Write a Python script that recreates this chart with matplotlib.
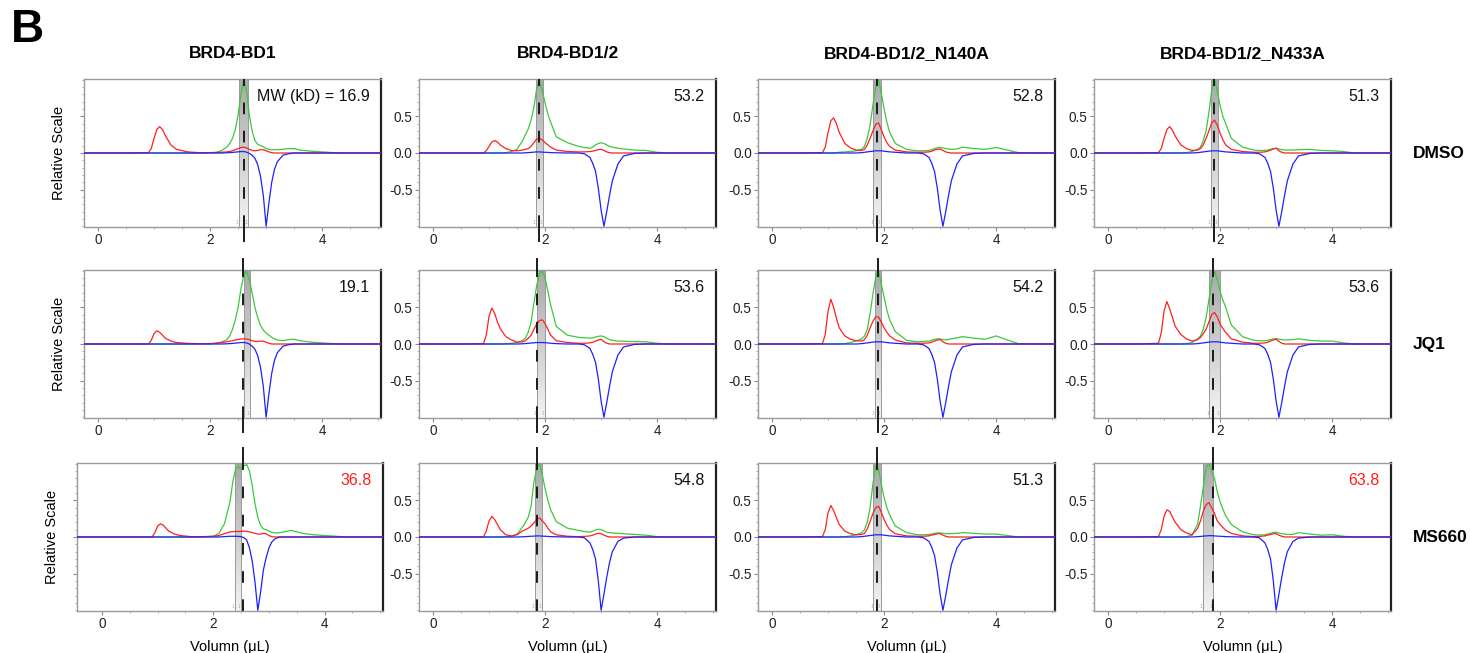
import numpy as np
import matplotlib
matplotlib.use("Agg")
import matplotlib.pyplot as plt
from matplotlib.colors import LinearSegmentedColormap
from matplotlib.transforms import blended_transform_factory

plt.rcParams['font.family'] = ['Liberation Sans', 'DejaVu Sans']

# volume grids (uL): column 1 and columns 2-4
X_A = [-0.45, 0.5, 0.9, 0.95, 1.0, 1.05, 1.1, 1.15, 1.2, 1.3, 1.4,
       1.6, 1.8, 2.0, 2.1, 2.2, 2.3, 2.35, 2.4, 2.45, 2.5, 2.55,
       2.6, 2.65, 2.7, 2.75, 2.8, 2.85, 2.9, 2.95, 3.0, 3.05, 3.1,
       3.15, 3.2, 3.3, 3.4, 3.5, 3.6, 3.8, 4.0, 4.2, 4.4, 5.05]
X_B = [-0.45, 0.5, 0.9, 0.95, 1.0, 1.05, 1.1, 1.15, 1.2, 1.3, 1.4,
       1.5, 1.6, 1.65, 1.7, 1.75, 1.8, 1.85, 1.9, 1.95, 2.0, 2.05,
       2.1, 2.2, 2.4, 2.6, 2.7, 2.8, 2.85, 2.9, 2.95, 3.0, 3.05,
       3.1, 3.15, 3.2, 3.3, 3.4, 3.6, 3.8, 4.0, 4.2, 4.4, 5.05]

# ---- row 1 (DMSO) ----
G11 = [0, 0, 0, 0, 0, 0, 0, 0, 0, 0, 0,
       0, 0, 0.005, 0.01, 0.03, 0.08, 0.13, 0.2, 0.32, 0.52, 0.8,
       1.0, 0.85, 0.52, 0.3, 0.17, 0.12, 0.1, 0.085, 0.06, 0.05, 0.045,
       0.045, 0.045, 0.05, 0.06, 0.06, 0.04, 0.025, 0.015, 0.005, 0, 0]
R11 = [0, 0, 0.005, 0.06, 0.2, 0.32, 0.36, 0.32, 0.24, 0.11, 0.05,
       0.015, 0.005, 0.005, 0.005, 0.01, 0.015, 0.02, 0.03, 0.045, 0.06, 0.075,
       0.08, 0.07, 0.05, 0.035, 0.03, 0.035, 0.045, 0.045, 0.03, 0.015, 0.005,
       0, 0, 0, 0, 0, 0, 0, 0, 0, 0, 0]
B11 = [0, 0, 0, 0, 0, 0, 0, 0, 0, 0, 0,
       0, 0, 0, 0, 0, 0.003, 0.005, 0.008, 0.012, 0.016, 0.02,
       0.02, 0.012, -0.005, -0.03, -0.07, -0.16, -0.32, -0.58, -1.0, -0.68, -0.4,
       -0.22, -0.12, -0.03, -0.01, 0, 0, 0, 0, 0, 0, 0]

G12 = [0, 0, 0, 0, 0, 0, 0, 0, 0, 0.005, 0.02,
       0.05, 0.17, 0.25, 0.33, 0.45, 0.62, 0.88, 1.0, 0.85, 0.68, 0.53,
       0.42, 0.22, 0.14, 0.09, 0.075, 0.065, 0.08, 0.11, 0.13, 0.14, 0.13,
       0.11, 0.09, 0.08, 0.065, 0.055, 0.04, 0.035, 0.01, 0, 0, 0]
R12 = [0, 0, 0, 0.03, 0.09, 0.15, 0.17, 0.15, 0.11, 0.06, 0.035,
       0.03, 0.04, 0.05, 0.06, 0.09, 0.14, 0.19, 0.2, 0.18, 0.14, 0.11,
       0.08, 0.04, 0.02, 0.015, 0.015, 0.02, 0.025, 0.035, 0.045, 0.05, 0.035,
       0.015, 0.005, 0, 0, 0, 0, 0, 0, 0, 0, 0]
B12 = [0, 0, 0, 0, 0, 0, 0, 0, 0, 0, 0,
       0, 0, 0.003, 0.005, 0.008, 0.012, 0.015, 0.015, 0.012, 0.01, 0.008,
       0.005, 0.003, 0, 0, -0.01, -0.06, -0.14, -0.25, -0.48, -0.78, -1.0,
       -0.8, -0.58, -0.38, -0.15, -0.04, -0.005, 0, 0, 0, 0, 0]

G13 = [0, 0, 0, 0, 0, 0, 0, 0.005, 0.01, 0.015, 0.02,
       0.03, 0.05, 0.09, 0.2, 0.38, 0.65, 0.9, 1.0, 0.82, 0.6, 0.42,
       0.28, 0.13, 0.05, 0.03, 0.03, 0.035, 0.045, 0.06, 0.07, 0.075, 0.07,
       0.06, 0.055, 0.05, 0.055, 0.08, 0.06, 0.05, 0.075, 0.04, 0.005, 0]
R13 = [0, 0, 0.005, 0.08, 0.28, 0.44, 0.48, 0.4, 0.28, 0.13, 0.07,
       0.04, 0.035, 0.05, 0.11, 0.2, 0.3, 0.39, 0.41, 0.32, 0.22, 0.14,
       0.09, 0.04, 0.015, 0.01, 0.01, 0.015, 0.025, 0.04, 0.05, 0.055, 0.035,
       0.015, 0.005, 0, 0, 0, 0, 0, 0, 0, 0, 0]
B13 = [0, 0, 0, 0, 0, 0, 0, 0, 0, 0, 0,
       0, 0.005, 0.01, 0.015, 0.02, 0.025, 0.03, 0.03, 0.03, 0.025, 0.02,
       0.015, 0.01, 0, 0, -0.01, -0.06, -0.14, -0.25, -0.48, -0.78, -1.0,
       -0.8, -0.58, -0.38, -0.15, -0.04, -0.005, 0, 0, 0, 0, 0]

G14 = [0, 0, 0, 0, 0, 0, 0, 0, 0, 0, 0.005,
       0.02, 0.05, 0.08, 0.17, 0.3, 0.55, 0.85, 1.0, 0.85, 0.65, 0.5,
       0.4, 0.2, 0.08, 0.04, 0.035, 0.035, 0.04, 0.05, 0.06, 0.065, 0.055,
       0.045, 0.04, 0.04, 0.04, 0.045, 0.05, 0.035, 0.03, 0.02, 0, 0]
R14 = [0, 0, 0.005, 0.06, 0.2, 0.32, 0.36, 0.31, 0.23, 0.11, 0.06,
       0.035, 0.04, 0.06, 0.11, 0.2, 0.3, 0.41, 0.45, 0.38, 0.27, 0.18,
       0.11, 0.05, 0.02, 0.01, 0.01, 0.015, 0.025, 0.04, 0.055, 0.065, 0.03,
       0.01, 0, 0, 0, 0, 0, 0, 0, 0, 0, 0]
B14 = [0, 0, 0, 0, 0, 0, 0, 0, 0, 0, 0,
       0, 0.005, 0.01, 0.015, 0.02, 0.025, 0.03, 0.03, 0.03, 0.025, 0.02,
       0.015, 0.01, 0, 0, -0.01, -0.06, -0.14, -0.25, -0.48, -0.78, -1.0,
       -0.8, -0.58, -0.38, -0.15, -0.04, -0.005, 0, 0, 0, 0, 0]

# ---- row 2 (JQ1) ----
G21 = [0, 0, 0, 0, 0, 0, 0, 0, 0, 0, 0,
       0, 0, 0.003, 0.01, 0.025, 0.06, 0.11, 0.2, 0.33, 0.5, 0.75,
       0.93, 1.0, 0.88, 0.7, 0.5, 0.36, 0.25, 0.19, 0.15, 0.12, 0.09,
       0.07, 0.055, 0.045, 0.06, 0.065, 0.045, 0.025, 0.015, 0.005, 0, 0]
R21 = [0, 0, 0, 0.05, 0.14, 0.18, 0.16, 0.12, 0.08, 0.04, 0.02,
       0.008, 0.005, 0.005, 0.01, 0.02, 0.03, 0.038, 0.045, 0.055, 0.062, 0.068,
       0.07, 0.068, 0.06, 0.045, 0.035, 0.035, 0.04, 0.038, 0.025, 0.01, 0,
       0, 0, 0, 0, 0, 0, 0, 0, 0, 0, 0]
B21 = [0, 0, 0, 0, 0, 0, 0, 0, 0, 0, 0,
       0, 0, 0, 0, 0, 0.003, 0.005, 0.008, 0.012, 0.016, 0.02,
       0.02, 0.015, 0, -0.03, -0.07, -0.16, -0.32, -0.58, -1.0, -0.68, -0.4,
       -0.22, -0.12, -0.03, -0.01, 0, 0, 0, 0, 0, 0, 0]

G22 = [0, 0, 0, 0, 0, 0, 0, 0, 0, 0.005, 0.01,
       0.02, 0.05, 0.08, 0.16, 0.3, 0.55, 0.8, 0.95, 1.0, 0.9, 0.72,
       0.53, 0.24, 0.12, 0.09, 0.085, 0.08, 0.085, 0.095, 0.105, 0.11, 0.1,
       0.08, 0.06, 0.05, 0.04, 0.037, 0.033, 0.03, 0.01, 0, 0, 0]
R22 = [0, 0, 0.005, 0.12, 0.38, 0.49, 0.42, 0.3, 0.21, 0.1, 0.055,
       0.025, 0.03, 0.045, 0.08, 0.12, 0.2, 0.27, 0.32, 0.33, 0.28, 0.2,
       0.12, 0.045, 0.02, 0.01, 0.01, 0.015, 0.025, 0.04, 0.055, 0.065, 0.03,
       0.01, 0, 0, 0, 0, 0, 0, 0, 0, 0, 0]
B22 = [0, 0, 0, 0, 0, 0, 0, 0, 0, 0, 0,
       0, 0.003, 0.006, 0.01, 0.013, 0.016, 0.02, 0.02, 0.02, 0.018, 0.015,
       0.01, 0.005, 0, 0, -0.01, -0.06, -0.14, -0.25, -0.48, -0.78, -1.0,
       -0.8, -0.58, -0.38, -0.15, -0.04, -0.005, 0, 0, 0, 0, 0]

G23 = [0, 0, 0, 0, 0, 0, 0, 0, 0, 0.005, 0.02,
       0.04, 0.07, 0.11, 0.2, 0.41, 0.68, 0.9, 1.0, 0.82, 0.64, 0.46,
       0.33, 0.17, 0.05, 0.03, 0.035, 0.04, 0.05, 0.065, 0.07, 0.07, 0.06,
       0.055, 0.06, 0.07, 0.085, 0.1, 0.08, 0.065, 0.11, 0.055, 0.005, 0]
R23 = [0, 0, 0.005, 0.13, 0.45, 0.61, 0.5, 0.35, 0.22, 0.11, 0.065,
       0.045, 0.04, 0.06, 0.12, 0.22, 0.31, 0.37, 0.37, 0.3, 0.22, 0.16,
       0.11, 0.055, 0.015, 0.01, 0.01, 0.015, 0.025, 0.04, 0.055, 0.06, 0.03,
       0.01, 0, 0, 0, 0, 0, 0, 0, 0, 0, 0]
B23 = [0, 0, 0, 0, 0, 0, 0, 0, 0, 0, 0,
       0, 0.005, 0.01, 0.015, 0.02, 0.025, 0.03, 0.03, 0.03, 0.025, 0.02,
       0.015, 0.01, 0, 0, -0.01, -0.06, -0.14, -0.25, -0.48, -0.78, -1.0,
       -0.8, -0.58, -0.38, -0.15, -0.04, -0.005, 0, 0, 0, 0, 0]

G24 = [0, 0, 0, 0, 0, 0, 0, 0, 0, 0, 0.005,
       0.02, 0.07, 0.11, 0.2, 0.36, 0.6, 0.85, 1.0, 0.88, 0.72, 0.6,
       0.5, 0.26, 0.1, 0.05, 0.045, 0.045, 0.05, 0.06, 0.07, 0.075, 0.065,
       0.06, 0.055, 0.055, 0.06, 0.07, 0.05, 0.04, 0.04, 0.015, 0, 0]
R24 = [0, 0, 0.01, 0.15, 0.45, 0.58, 0.48, 0.36, 0.24, 0.13, 0.07,
       0.04, 0.06, 0.09, 0.14, 0.2, 0.3, 0.4, 0.43, 0.37, 0.27, 0.21,
       0.16, 0.07, 0.025, 0.01, 0.01, 0.015, 0.025, 0.04, 0.055, 0.065, 0.035,
       0.01, 0, 0, 0, 0, 0, 0, 0, 0, 0, 0]
B24 = [0, 0, 0, 0, 0, 0, 0, 0, 0, 0, 0,
       0, 0.005, 0.01, 0.015, 0.02, 0.025, 0.03, 0.03, 0.03, 0.025, 0.02,
       0.015, 0.01, 0, 0, -0.01, -0.06, -0.14, -0.25, -0.48, -0.78, -1.0,
       -0.8, -0.58, -0.38, -0.15, -0.04, -0.005, 0, 0, 0, 0, 0]

# ---- row 3 (MS660) ----
G31 = [0, 0, 0, 0, 0, 0, 0, 0, 0, 0, 0,
       0, 0, 0.01, 0.05, 0.18, 0.48, 0.75, 0.93, 0.96, 0.93, 0.97,
       0.99, 0.9, 0.7, 0.45, 0.27, 0.16, 0.11, 0.1, 0.08, 0.065, 0.055,
       0.055, 0.06, 0.075, 0.09, 0.07, 0.05, 0.03, 0.02, 0.01, 0, 0]
R31 = [0, 0, 0, 0.06, 0.15, 0.18, 0.16, 0.12, 0.08, 0.04, 0.02,
       0.005, 0.005, 0.01, 0.02, 0.045, 0.07, 0.073, 0.075, 0.075, 0.078, 0.08,
       0.078, 0.07, 0.06, 0.05, 0.04, 0.04, 0.05, 0.045, 0.02, 0.005, 0,
       0, 0, 0, 0, 0, 0, 0, 0, 0, 0, 0]
B31 = [0, 0, 0, 0, 0, 0, 0, 0, 0, 0, 0,
       0, 0, 0, 0, 0.005, 0.01, 0.01, 0.01, 0.008, 0.005, -0.01,
       -0.04, -0.15, -0.33, -0.62, -1.0, -0.75, -0.45, -0.28, -0.15, -0.07, -0.03,
       -0.01, 0, 0, 0, 0, 0, 0, 0, 0, 0, 0]

G32 = [0, 0, 0, 0, 0, 0, 0, 0, 0, 0.005, 0.01,
       0.04, 0.14, 0.2, 0.27, 0.42, 0.75, 0.93, 1.0, 0.85, 0.66, 0.5,
       0.37, 0.21, 0.12, 0.09, 0.075, 0.065, 0.08, 0.095, 0.105, 0.1, 0.085,
       0.065, 0.06, 0.055, 0.05, 0.045, 0.035, 0.025, 0.005, 0, 0, 0]
R32 = [0, 0, 0, 0.08, 0.22, 0.28, 0.24, 0.17, 0.1, 0.03, 0.015,
       0.03, 0.085, 0.1, 0.12, 0.15, 0.19, 0.24, 0.26, 0.22, 0.18, 0.12,
       0.07, 0.03, 0.01, 0.005, 0.008, 0.015, 0.025, 0.04, 0.05, 0.045, 0.025,
       0.01, 0, 0, 0, 0, 0, 0, 0, 0, 0, 0]
B32 = [0, 0, 0, 0, 0, 0, 0, 0, 0, 0, 0,
       0, 0.003, 0.005, 0.008, 0.01, 0.012, 0.015, 0.015, 0.012, 0.01, 0.008,
       0.005, 0.003, 0, 0, -0.01, -0.08, -0.17, -0.3, -0.6, -1.0, -0.78,
       -0.55, -0.35, -0.2, -0.06, -0.015, 0, 0, 0, 0, 0, 0]

G33 = [0, 0, 0, 0, 0, 0, 0, 0, 0, 0.005, 0.015,
       0.03, 0.06, 0.1, 0.2, 0.4, 0.72, 0.98, 0.92, 0.72, 0.54, 0.4,
       0.3, 0.15, 0.06, 0.03, 0.03, 0.035, 0.04, 0.05, 0.055, 0.055, 0.05,
       0.045, 0.045, 0.045, 0.05, 0.06, 0.05, 0.04, 0.04, 0.02, 0, 0]
R33 = [0, 0, 0.005, 0.1, 0.33, 0.43, 0.36, 0.26, 0.17, 0.08, 0.045,
       0.03, 0.035, 0.05, 0.11, 0.21, 0.32, 0.4, 0.42, 0.34, 0.24, 0.16,
       0.1, 0.045, 0.015, 0.01, 0.01, 0.015, 0.025, 0.035, 0.045, 0.045, 0.025,
       0.01, 0, 0, 0, 0, 0, 0, 0, 0, 0, 0]
B33 = [0, 0, 0, 0, 0, 0, 0, 0, 0, 0, 0,
       0, 0.005, 0.01, 0.015, 0.02, 0.025, 0.03, 0.03, 0.03, 0.025, 0.02,
       0.015, 0.01, 0, 0, -0.01, -0.06, -0.14, -0.25, -0.48, -0.78, -1.0,
       -0.8, -0.58, -0.38, -0.15, -0.04, -0.005, 0, 0, 0, 0, 0]

G34 = [0, 0, 0, 0, 0, 0, 0, 0, 0, 0, 0.005,
       0.025, 0.18, 0.42, 0.68, 0.95, 1.0, 0.9, 0.8, 0.62, 0.48, 0.38,
       0.29, 0.17, 0.07, 0.03, 0.028, 0.03, 0.04, 0.05, 0.06, 0.065, 0.055,
       0.045, 0.04, 0.035, 0.035, 0.06, 0.04, 0.025, 0.03, 0.01, 0, 0]
R34 = [0, 0, 0.005, 0.1, 0.28, 0.37, 0.35, 0.27, 0.2, 0.1, 0.055,
       0.03, 0.12, 0.22, 0.35, 0.44, 0.47, 0.4, 0.32, 0.22, 0.17, 0.13,
       0.09, 0.05, 0.015, 0.005, 0.008, 0.015, 0.025, 0.035, 0.045, 0.045, 0.025,
       0.01, 0, 0, 0, 0, 0, 0, 0, 0, 0, 0]
B34 = [0, 0, 0, 0, 0, 0, 0, 0, 0, 0, 0,
       0, 0.005, 0.008, 0.012, 0.015, 0.018, 0.018, 0.015, 0.012, 0.01, 0.008,
       0.005, 0.003, 0, 0, -0.01, -0.08, -0.17, -0.3, -0.6, -1.0, -0.78,
       -0.55, -0.35, -0.2, -0.06, -0.015, 0, 0, 0, 0, 0, 0]

COLUMNS = ["BRD4-BD1", "BRD4-BD1/2", "BRD4-BD1/2_N140A", "BRD4-BD1/2_N433A"]
ROWS = ["DMSO", "JQ1", "MS660"]
MW = [["MW (kD) = 16.9", "53.2", "52.8", "51.3"],
      ["19.1", "53.6", "54.2", "53.6"],
      ["36.8", "54.8", "51.3", "63.8"]]
MW_RED = [(2, 0), (2, 3)]
GREEN = [[G11, G12, G13, G14], [G21, G22, G23, G24], [G31, G32, G33, G34]]
RED = [[R11, R12, R13, R14], [R21, R22, R23, R24], [R31, R32, R33, R34]]
BLUE = [[B11, B12, B13, B14], [B21, B22, B23, B24], [B31, B32, B33, B34]]
# selected fraction window and peak marker (uL)
BANDS = [[(2.52, 2.68), (1.83, 1.96), (1.81, 1.95), (1.83, 1.97)],
         [(2.60, 2.71), (1.85, 2.00), (1.83, 1.94), (1.81, 1.99)],
         [(2.39, 2.49), (1.82, 1.95), (1.81, 1.94), (1.70, 1.87)]]
MARKS = [[2.60, 1.89, 1.88, 1.89],
         [2.59, 1.86, 1.89, 1.87],
         [2.53, 1.86, 1.88, 1.87]]

FW, FH = 1470, 653
COL_LEFT = [84, 419, 758, 1094]
ROW_TOP = [79, 270, 463]
W, H = 297, 148

band_cmap = LinearSegmentedColormap.from_list("band", ["#a9a9a9", "#f3f3f3"])

fig = plt.figure(figsize=(FW / 100, FH / 100), dpi=100)
fig.text(27 / FW, 1 - 30 / FH, "B", fontsize=33, fontweight="bold",
         ha="center", va="center")

for r in range(3):
    for c in range(4):
        left, width, xmin = COL_LEFT[c], W, -0.25
        if r == 2 and c == 0:
            left, width, xmin = 77, 306, -0.45
        ax = fig.add_axes([left / FW, 1 - (ROW_TOP[r] + H) / FH, width / FW, H / FH])
        x = X_A if c == 0 else X_B

        lo, hi = BANDS[r][c]
        ax.imshow(np.linspace(0, 1, 64).reshape(-1, 1), cmap=band_cmap,
                  extent=(lo, hi, -1.01, 1.01), aspect="auto", origin="upper",
                  zorder=1, interpolation="bilinear")
        for e in (lo, hi):
            ax.axvline(e, color="#9a9a9a", lw=0.7, zorder=2)
            ax.text(e - 0.01, -0.985, "1", fontsize=3.5, color="#aaaaaa",
                    ha="right", va="bottom", zorder=2)

        ax.plot(x, GREEN[r][c], color="#3cc83c", lw=0.9, zorder=3)
        ax.plot(x, RED[r][c], color="#ff1f1f", lw=0.9, zorder=4)
        ax.plot(x, BLUE[r][c], color="#1f1fff", lw=0.9, zorder=5)

        m = MARKS[r][c]
        ax.plot([m, m], [-1.01, 1.01], color="#1a1a1a", lw=1.4,
                ls=(0, (6, 8.5)), zorder=6)
        if r == 0:
            segs = [(-0.095, 0.0)]
        elif r == 1:
            segs = [(-0.095, 0.0), (1.0, 1.075)]
        else:
            segs = [(1.0, 1.1)]
        for y0, y1 in segs:
            ax.plot([m, m], [y0, y1], color="#1a1a1a", lw=1.4,
                    transform=ax.get_xaxis_transform(), clip_on=False, zorder=6)

        ax.set_xlim(xmin, 5.05)
        ax.set_ylim(-1.01, 1.01)
        ax.set_xticks([0, 2, 4])
        ax.set_xticklabels(["0", "2", "4"])
        ax.set_xticks(np.arange(0, 5.01, 0.5), minor=True)
        ax.set_yticks([-0.5, 0, 0.5])
        ax.set_yticks(np.arange(-1.0, 1.01, 0.1), minor=True)
        if c == 0:
            ax.set_yticklabels([])
            ax.set_ylabel("Relative Scale", fontsize=10.5, labelpad=8)
        else:
            ax.set_yticklabels(["-0.5", "0.0", "0.5"])
        ax.tick_params(which="major", length=3, width=0.8, color="#8a8a8a",
                       labelsize=9.8, pad=1.5, labelcolor="#222222")
        ax.tick_params(which="minor", length=1.5, width=0.6, color="#a0a0a0")
        for s in ("left", "top", "bottom"):
            ax.spines[s].set_color("#9a9a9a")
            ax.spines[s].set_linewidth(1.0)
        ax.spines["right"].set_color("#222222")
        ax.spines["right"].set_linewidth(1.6)

        ax.text(0.962, 0.88, MW[r][c], transform=ax.transAxes, ha="right",
                va="center", fontsize=11.5,
                color="#ff1f1f" if (r, c) in MW_RED else "#111111", zorder=7)

        if r == 0:
            fig.text((left + width / 2) / FW, 1 - 54 / FH, COLUMNS[c],
                     ha="center", va="center", fontsize=12.5, fontweight="bold")
        if r == 2:
            ax.set_xlabel("Volumn (μL)", fontsize=10.5, labelpad=6)
        if c == 3:
            tr = blended_transform_factory(ax.transAxes, ax.transData)
            ax.text(1.074, 0.0, ROWS[r], transform=tr, ha="left", va="center",
                    fontsize=12.5, fontweight="bold")

fig.savefig("out.png", dpi=100, facecolor="white")
